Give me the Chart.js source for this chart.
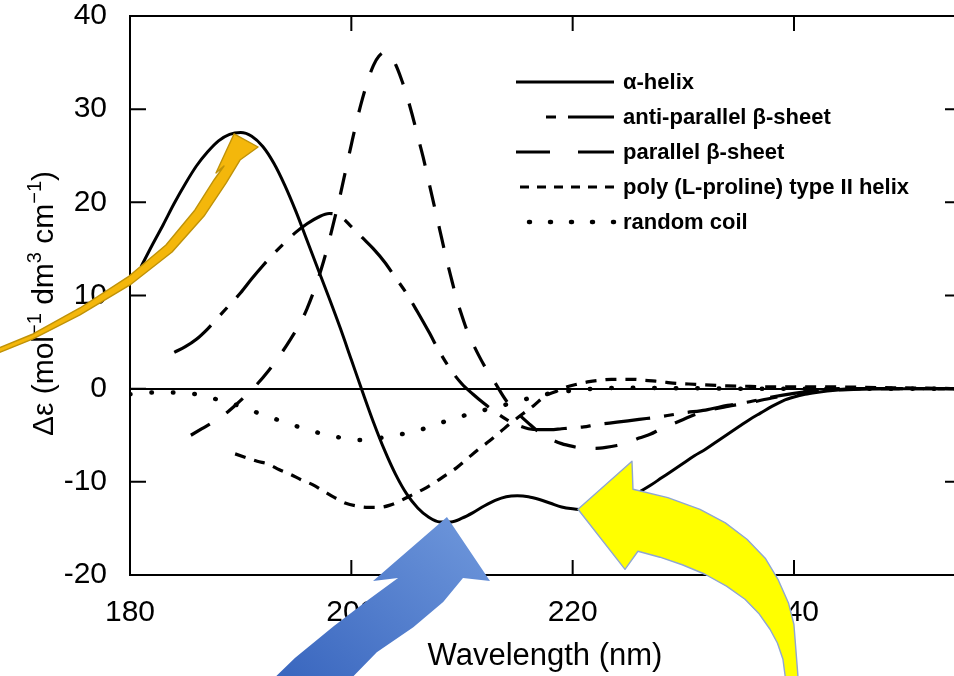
<!DOCTYPE html>
<html>
<head>
<meta charset="utf-8">
<script src="https://cdn.jsdelivr.net/npm/chart.js@4.4.1/dist/chart.umd.min.js"></script>
<style>
  html, body { margin: 0; padding: 0; background: #fff; overflow: hidden; }
  #wrap { width: 975px; height: 676px; position: relative; }
</style>
</head>
<body>
<div id="wrap"><canvas id="cd"></canvas></div>
<script>
// CD spectra, values (nm -> Δε)
const helixNm = [181,182,183,184,185,186,187,188,189,190,191,192,193,194,195,196,197,198,199,200,
  201,202,203,204,205,206,207,208,209,210,211,212,213,214,215,216,217,218,219,220,
  221,222,223,224,225,226,227,228,229,230,231,232,233,234,235,236,237,238,239,240,
  241,242,243,244,246,248,252,255];
const helixDe = [13.1,15.4,17.6,19.9,22.0,23.9,25.4,26.6,27.3,27.5,27.1,26.0,24.2,21.8,19.0,15.9,12.8,9.7,6.5,3.1,
  -0.3,-3.6,-6.6,-9.2,-11.3,-12.8,-13.8,-14.3,-14.3,-13.9,-13.3,-12.6,-12.0,-11.6,-11.5,-11.6,-11.9,-12.3,-12.7,-12.9,
  -13.0,-12.9,-12.6,-12.2,-11.7,-11.1,-10.4,-9.6,-8.8,-8.0,-7.2,-6.5,-5.7,-4.9,-4.1,-3.3,-2.6,-1.9,-1.3,-0.9,
  -0.6,-0.4,-0.25,-0.15,-0.05,0,0,0];

const antiNm = [184,185,186,187,188,189,190,191,192,193,194,195,196,197,198,199,200,201,202,203,
  204,205,206,207,208,209,210,211,212,213,214,215,216,217,218,219,220,221,222,
  224,226,228,230,232,234,236,238,240,242,244,248,255];
const antiDe = [3.9,4.5,5.3,6.4,7.7,9.0,10.3,11.8,13.2,14.5,15.7,16.8,17.7,18.4,18.8,18.5,17.4,16.2,15.0,13.6,
  11.9,10.2,8.2,6.1,3.9,2.0,0.5,-0.6,-1.6,-2.5,-3.3,-3.9,-4.3,-4.4,-4.4,-4.3,-4.2,-4.1,-3.9,
  -3.6,-3.3,-3.0,-2.6,-2.3,-1.8,-1.4,-0.9,-0.5,-0.2,0,0,0];

const parNm = [185.5,186.5,187.5,188.5,189.5,190.5,191.5,192.5,193.5,194.5,195.5,
  196,196.5,197,197.5,198,198.5,199,199.5,200,200.5,201,201.5,202,202.5,203,203.5,204,204.5,
  205,205.5,206,206.5,207,207.5,208,208.5,209,209.5,210,210.5,211,211.5,212,
  213,214,215,216,217,218,219,220,221,222,223,224,225,226,227,228,229,230,231,232,
  234,236,238,240,242,244,246,250,255];
const parDe = [-5.0,-4.3,-3.6,-2.8,-1.8,-0.7,0.5,1.9,3.5,5.3,7.3,
  8.6,10.1,11.8,13.7,15.9,18.3,20.8,23.5,26.2,28.8,31.1,33.1,34.7,35.7,36.1,35.8,34.8,33.3,
  31.5,29.4,27.1,24.8,22.2,19.6,17.0,14.4,12.0,9.7,7.8,6.1,4.8,3.6,2.5,
  0.6,-1.3,-2.6,-3.7,-4.7,-5.4,-5.9,-6.2,-6.4,-6.4,-6.3,-6.1,-5.8,-5.3,-4.9,-4.3,-3.8,-3.3,-2.8,-2.4,
  -1.9,-1.5,-1.0,-0.6,-0.3,-0.1,0,0,0];

const ppiiNm = [189.5,190.5,191.5,192.5,193.5,194.5,195.5,196.5,197.5,198.5,199.5,200.5,201.5,202.5,203.5,
  204.5,205.5,206.5,207.5,208.5,209.5,210.5,211.5,212.5,213.5,214.5,215.5,216.5,217.5,218.5,
  219.5,220.5,221.5,222.5,223.5,224.5,225.5,226.5,227.5,228.5,229.5,230.5,
  232,234,236,238,240,243,246,249,252,255];
const ppiiDe = [-7.0,-7.4,-7.8,-8.1,-8.7,-9.2,-9.8,-10.3,-11.0,-11.7,-12.3,-12.6,-12.75,-12.75,-12.5,
  -12.0,-11.4,-10.8,-10.1,-9.3,-8.5,-7.5,-6.5,-5.6,-4.6,-3.6,-2.7,-1.8,-0.8,-0.3,
  0.2,0.5,0.75,0.9,1.0,1.0,1.0,0.9,0.8,0.67,0.56,0.5,
  0.4,0.3,0.25,0.2,0.2,0.2,0.15,0.1,0.05,0];

const coilNm = [180,182,184,186,188,190,192,194,196,198,200,201,202,204,206,208,210,212,214,216,
  218,220,222,225,230,235,240,245,250,255];
const coilDe = [-0.6,-0.4,-0.4,-0.6,-1.2,-1.9,-2.8,-3.6,-4.4,-5.0,-5.45,-5.5,-5.4,-5.0,-4.5,-3.7,-2.95,-2.3,-1.7,-1.05,
  -0.5,-0.2,0,0.1,0.05,0,0,0,0,0];

const seriesNames = ['α-helix', 'anti-parallel β-sheet', 'parallel β-sheet',
  'poly (L-proline) type II helix', 'random coil'];
const xTicks = [180, 200, 220, 240];
const yTicks = [-20, -10, 0, 10, 20, 30, 40];

const pts = (xs, ys) => xs.map((x, i) => ({ x, y: ys[i] }));
const FONT = '"Liberation Sans", Arial, Helvetica, sans-serif';

// cadres et graduations vers l'interieur
const frame = {
  id: 'frame',
  afterDatasetsDraw(chart) {
    const { ctx, chartArea: a, scales: { x, y } } = chart;
    ctx.save();
    ctx.strokeStyle = '#000';
    ctx.lineWidth = 2;
    ctx.setLineDash([]);
    ctx.strokeRect(a.left, a.top, a.right - a.left, a.bottom - a.top);
    ctx.beginPath();
    xTicks.forEach(v => {
      const px = x.getPixelForValue(v);
      ctx.moveTo(px, a.bottom); ctx.lineTo(px, a.bottom - 15);
      ctx.moveTo(px, a.top); ctx.lineTo(px, a.top + 15);
    });
    yTicks.forEach(v => {
      const py = y.getPixelForValue(v);
      ctx.moveTo(a.left, py); ctx.lineTo(a.left + 16, py);
      ctx.moveTo(a.right, py); ctx.lineTo(a.right - 15, py);
    });
    ctx.stroke();
    ctx.restore();
  }
};

// legende dessinee a la main (echantillons de trait)
const legendRows = {
  id: 'legendRows',
  afterDatasetsDraw(chart) {
    const { ctx } = chart;
    const starts = [516, 543, 516, 512, 514];
    const dashes = [[], [46, 12, 10, 12], [36, 28], [9, 8], [1, 20]];
    ctx.save();
    ctx.font = 'bold 22px ' + FONT;
    ctx.textBaseline = 'middle';
    chart.data.datasets.forEach((ds, i) => {
      const yy = 82 + i * 35;
      ctx.strokeStyle = '#000';
      ctx.lineWidth = ds.borderWidth;
      ctx.lineCap = ds.borderCapStyle || 'butt';
      ctx.setLineDash(dashes[i]);
      ctx.beginPath();
      ctx.moveTo(614, yy);
      ctx.lineTo(starts[i], yy);
      ctx.stroke();
      ctx.setLineDash([]);
      ctx.fillStyle = '#000';
      ctx.fillText(ds.label, 623, yy + 1);
    });
    ctx.restore();
  }
};

// titre de l'axe y avec exposants
const yTitle = {
  id: 'yTitle',
  afterDraw(chart) {
    const { ctx, chartArea: a } = chart;
    const parts = [['Δε (mol', 0], ['−1', 1], [' dm', 0], ['3', 1], [' cm', 0], ['−1', 1], [')', 0]];
    const big = '30px ' + FONT, small = '20px ' + FONT;
    ctx.save();
    ctx.translate(42, (a.top + a.bottom) / 2 + 8);
    ctx.rotate(-Math.PI / 2);
    let w = 0;
    parts.forEach(([t, s]) => { ctx.font = s ? small : big; w += ctx.measureText(t).width; });
    let cx = -w / 2;
    ctx.fillStyle = '#000';
    ctx.textBaseline = 'alphabetic';
    parts.forEach(([t, s]) => {
      ctx.font = s ? small : big;
      ctx.fillText(t, cx, s ? -1 : 11);
      cx += ctx.measureText(t).width;
    });
    ctx.restore();
  }
};

// fleches ajoutees sur la figure (en unites de donnees)
const overlays = {
  id: 'overlays',
  afterDraw(chart) {
    const { ctx, scales: { x, y } } = chart;
    const P = ([nm, de]) => [x.getPixelForValue(nm), y.getPixelForValue(de)];
    const shape = (list, fill, stroke, lw) => {
      ctx.beginPath();
      list.map(P).forEach(([px, py], i) => i ? ctx.lineTo(px, py) : ctx.moveTo(px, py));
      ctx.closePath();
      ctx.fillStyle = fill;
      ctx.fill();
      if (stroke) { ctx.strokeStyle = stroke; ctx.lineWidth = lw; ctx.stroke(); }
    };
    ctx.save();
    ctx.setLineDash([]);
    ctx.lineJoin = 'round';
    // fleche doree
    shape([[167.8, 3.7], [171.24, 5.34], [175.48, 7.91], [180.0, 11.13], [183.8, 14.67], [186.69, 18.53],
      [188.68, 22.07], [189.94, 24.54], [191.57, 25.94], [189.4, 27.34], [187.77, 23.15], [188.49, 23.9],
      [187.59, 22.4], [185.87, 19.18], [183.25, 15.42], [179.82, 11.99], [175.48, 8.66], [171.24, 5.87],
      [167.8, 4.2]], '#f4b70b', '#bf9208', 1.4);
    // fleche bleue
    const tip = P([208.64, -13.77]), tail = P([195, -32]);
    const g = ctx.createLinearGradient(tail[0], tail[1], tip[0], tip[1]);
    g.addColorStop(0, '#3a67bf');
    g.addColorStop(1, '#6a93d9');
    shape([[208.64, -13.77], [212.53, -20.64], [210.09, -20.32], [208.3, -22.9], [205.6, -25.6],
      [202.3, -28.3], [198.97, -32.34], [191.93, -32.34], [194.9, -28.9], [198.4, -25.5],
      [201.6, -22.6], [204.22, -20.32], [201.96, -20.64]], g, null, 0);
    // fleche jaune
    shape([[220.48, -12.94], [225.36, -7.79], [225.45, -10.8], [228.6, -11.7], [231.51, -12.95],
      [233.8, -14.4], [235.75, -16.17], [237.4, -18.2], [238.55, -20.46], [239.5, -23.0],
      [239.99, -25.29], [240.35, -30.76], [240.26, -32.26], [239.36, -32.26], [239.0, -29.04],
      [238.5, -27.3], [237.83, -25.82], [236.8, -24.1], [235.57, -22.6], [233.9, -21.2],
      [231.96, -19.92], [229.9, -18.9], [227.89, -18.09], [225.9, -17.45], [224.73, -19.39]],
      '#ffff00', '#8fa6d2', 1.4);
    ctx.restore();
  }
};

const lineBase = { borderColor: '#000', backgroundColor: '#000', pointRadius: 0, fill: false,
  cubicInterpolationMode: 'monotone', borderWidth: 3.2 };

new Chart(document.getElementById('cd'), {
  type: 'line',
  data: {
    datasets: [
      { ...lineBase, label: seriesNames[0], data: pts(helixNm, helixDe), borderWidth: 3 },
      { ...lineBase, label: seriesNames[1], data: pts(antiNm, antiDe), borderDash: [46, 14, 10, 14] },
      { ...lineBase, label: seriesNames[2], data: pts(parNm, parDe), borderDash: [22, 20] },
      { ...lineBase, label: seriesNames[3], data: pts(ppiiNm, ppiiDe), borderDash: [11, 9] },
      { ...lineBase, label: seriesNames[4], data: pts(coilNm, coilDe), borderWidth: 4.5,
        borderDash: [0.5, 21], borderCapStyle: 'round' },
    ],
  },
  options: {
    responsive: true,
    maintainAspectRatio: false,
    animation: false,
    layout: { padding: { left: 0, right: 15, top: 16, bottom: 0 } },
    plugins: { legend: { display: false }, tooltip: { enabled: false } },
    scales: {
      x: {
        type: 'linear', min: 180, max: 255,
        ticks: { stepSize: 20, includeBounds: false, color: '#000', padding: 12,
          maxRotation: 0, font: { family: FONT, size: 30 } },
        grid: { display: false },
        border: { display: false },
        title: { display: true, text: 'Wavelength (nm)', color: '#000',
          font: { family: FONT, size: 31, lineHeight: 1.2 }, padding: { top: 0, bottom: 1 } },
        afterFit: s => { s.height = 101; s.paddingLeft = 0; s.paddingRight = 0; },
      },
      y: {
        min: -20, max: 40,
        ticks: { stepSize: 10, color: '#000', padding: 23, font: { family: FONT, size: 30 } },
        grid: { color: c => c.tick.value === 0 ? '#000' : 'rgba(0,0,0,0)', lineWidth: 2, drawTicks: false },
        border: { display: false },
        afterFit: s => { s.width = 130; s.paddingTop = 0; s.paddingBottom = 0; },
      },
    },
  },
  plugins: [frame, legendRows, yTitle, overlays],
});
</script>
</body>
</html>
